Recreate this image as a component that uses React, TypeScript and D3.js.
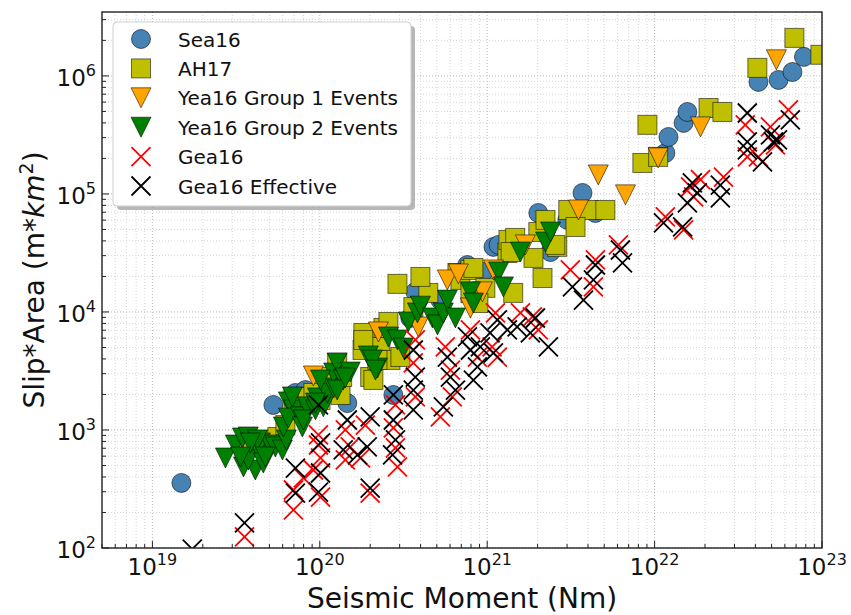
import React, { useEffect } from "react";
import * as d3 from "d3";

// ---- data: [seismic moment (Nm), slip*area (m*km^2)] ----
const sea16: [number, number][] = [
  [1.49e19, 356], [5.28e19, 1630], [7.14e19, 2060], [8.2e19, 2180], [1.46e20, 1690],
  [2.75e20, 1980], [2.3e20, 5250], [3.47e20, 8890], [3.72e20, 1.48e4], [5.25e20, 1.26e4],
  [7.6e20, 2.5e4], [9.5e20, 2.18e4], [1.09e21, 3.56e4], [1.17e21, 3.7e4], [2.02e21, 6.9e4],
  [2.39e21, 3.22e4], [3.01e21, 6.03e4], [3.71e21, 1.02e5], [4.43e21, 6.9e4], [1.16e22, 2.22e5],
  [1.21e22, 3.04e5], [1.49e22, 4.0e5], [1.57e22, 4.95e5], [4.17e22, 8.9e5], [5.5e22, 9.25e5],
  [6.66e22, 1.08e6], [7.8e22, 1.45e6],
];

const ah17: [number, number][] = [
  [3.85e19, 823], [4.6e19, 823], [5.58e19, 873], [6.23e19, 1100], [6.96e19, 1795], [8.43e19, 1905],
  [1.01e20, 1795], [1.16e20, 2405], [1.33e20, 1980], [1.36e20, 2813], [1.82e20, 6637], [2.0e20, 2813],
  [2.3e20, 5050], [2.64e20, 3920], [2.09e20, 2654], [2.21e20, 3920], [1.8e20, 4764], [1.82e20, 5790],
  [1.27e20, 3700], [1.05e20, 2813], [9.16e19, 2060], [3.03e20, 4155], [2.4e20, 7316], [2.57e20, 8230],
  [3.62e20, 1.1e4], [4.45e20, 1.45e4], [2.91e20, 1.73e4], [3.99e20, 1.98e4], [6.64e20, 2.14e4],
  [6.92e20, 1.87e4], [7.94e20, 2.27e4], [7.94e20, 1.45e4], [9.75e20, 1.6e4], [8.27e20, 2.36e4],
  [8.86e20, 1.19e4], [1.32e21, 3.16e4], [1.34e21, 4.07e4], [1.43e21, 1.45e4], [1.47e21, 4.24e4],
  [1.38e21, 3.22e4], [1.89e21, 2.87e4], [2.14e21, 1.94e4], [2.02e21, 4.76e4], [2.23e21, 6.02e4],
  [2.62e21, 3.56e4], [3.05e21, 7.31e4], [4.03e21, 7.31e4], [5.08e21, 7.31e4], [3.37e21, 5.25e4],
  [2.55e21, 3.7e4], [8.45e21, 1.83e5], [1.05e22, 2.06e5], [9.06e21, 3.85e5], [2.1e22, 5.35e5],
  [2.54e22, 4.95e5], [4.11e22, 1.17e6], [6.84e22, 2.1e6], [9.78e22, 1.51e6],
];

const yea16Group1: [number, number][] = [
  [9.16e19, 2870], [2.24e20, 6770], [3.88e20, 7460], [5.78e20, 1.87e4], [6.73e20, 2.1e4],
  [9.36e20, 1.48e4], [1.09e21, 2.27e4], [7.94e20, 1.08e4], [1.69e21, 3.7e4], [3.51e21, 7.31e4],
  [4.61e21, 1.45e5], [6.7e21, 9.82e4], [1.05e22, 2.02e5], [1.88e22, 3.7e5], [5.34e22, 1.37e6],
];

const yea16Group2: [number, number][] = [
  [2.73e19, 579], [3.13e19, 746], [3.45e19, 855], [3.74e19, 873], [3.5e19, 486], [4.12e19, 458],
  [3.74e19, 557], [4.42e19, 638], [4.42e19, 776], [5.07e19, 746], [4.6e19, 525], [5.43e19, 718],
  [5.98e19, 677], [6.31e19, 823], [4.24e19, 823], [3.85e19, 776], [4.73e19, 590], [3.36e19, 590],
  [6.06e19, 1060], [6.49e19, 1730], [6.96e19, 1480], [6.49e19, 1260], [7.66e19, 1290], [7.87e19, 1060],
  [6.86e19, 1905], [8.43e19, 1570], [9.68e19, 1870], [9.42e19, 1480], [1.05e20, 1570], [1.11e20, 2060],
  [1.21e20, 2270], [1.21e20, 3040], [1.01e20, 2650], [1.27e20, 3700], [1.38e20, 2650], [1.52e20, 3100],
  [1.27e20, 2180], [7.98e19, 1215], [9.42e19, 1690], [1.42e20, 2760], [1.95e20, 4240], [2.21e20, 3350],
  [2.06e20, 3920], [2.15e20, 3220], [2.57e20, 6140], [2.91e20, 5790], [3.16e20, 4950], [3.38e20, 8230],
  [3.83e20, 9810], [3.99e20, 1.12e4], [4.71e20, 8890], [5.05e20, 7760], [5.47e20, 9810], [5.78e20, 1.26e4],
  [6.46e20, 8890], [7.94e20, 1.48e4], [8.27e20, 1.19e4], [1.17e21, 2.18e4], [1.25e21, 1.63e4],
  [1.58e21, 3.22e4], [2.23e21, 3.92e4], [2.39e21, 4.76e4],
];

const gea16: [number, number][] = [
  [3.55e19, 124], [6.96e19, 210], [6.96e19, 310], [7.98e19, 392], [9.16e19, 458], [9.82e19, 746],
  [1.01e20, 579], [1.01e20, 270], [9.82e19, 907], [1.42e20, 557], [1.52e20, 718], [1.75e20, 579],
  [2.0e20, 292], [2.83e20, 1630], [2.75e20, 1040], [2.83e20, 704], [2.91e20, 486], [3.72e20, 5790],
  [3.62e20, 3700], [3.72e20, 1905], [5.62e20, 5050], [6.03e20, 3220], [6.19e20, 1905], [5.25e20, 1290],
  [7.94e20, 7040], [1.87e20, 1100], [1.12e21, 9810], [1.07e21, 5050], [8.74e20, 4150], [1.15e21, 4150],
  [1.58e21, 9810], [1.86e21, 9070], [2.02e21, 7040], [3.14e21, 2.27e4], [4.31e21, 1.63e4],
  [4.43e21, 2.76e4], [6.08e21, 3.7e4], [1.16e22, 6.38e4], [1.49e22, 4.95e4], [1.64e22, 1.15e5],
  [1.71e22, 9.44e4], [1.88e22, 1.32e5], [2.58e22, 1.39e5], [3.48e22, 3.85e5], [3.58e22, 2.06e5],
  [4.17e22, 2.06e5], [4.92e22, 3.7e5], [5.27e22, 2.6e5], [6.3e22, 5.15e5], [1.42e20, 1000],
];

const gea16Effective: [number, number][] = [
  [1.73e19, 98], [3.55e19, 163], [7.15e19, 476], [7.15e19, 292], [1.01e20, 432], [9.82e19, 298],
  [1.01e20, 776], [9.82e19, 1630], [1.38e20, 677], [1.46e20, 1215], [1.68e20, 614], [1.92e20, 718],
  [2.0e20, 322], [2.75e20, 1980], [2.75e20, 1215], [2.83e20, 823], [2.72e20, 614], [3.62e20, 4760],
  [3.72e20, 2810], [3.62e20, 2180], [3.62e20, 1480], [5.78e20, 4150], [6.03e20, 2810], [6.46e20, 2180],
  [5.47e20, 1570], [7.62e20, 6140], [7.94e20, 4760], [2.0e20, 1290], [1.15e21, 8550], [1.04e21, 6640],
  [9.1e20, 5050], [1.32e21, 7040], [1.51e21, 7460], [1.94e21, 8890], [1.81e21, 6640], [2.32e21, 5050],
  [8.74e20, 3420], [8.27e20, 2650], [1.09e21, 4500], [3.23e21, 1.63e4], [3.76e21, 1.26e4],
  [4.43e21, 2.5e4], [4.31e21, 1.87e4], [6.25e21, 3.35e4], [6.43e21, 2.6e4], [1.13e22, 5.68e4],
  [1.47e22, 5.25e4], [1.68e22, 1.24e5], [1.8e22, 1.02e5], [1.57e22, 8.39e4], [2.47e22, 1.19e5],
  [2.47e22, 9.25e4], [3.58e22, 4.85e5], [3.58e22, 2.76e5], [3.58e22, 2.36e5], [4.92e22, 3.16e5],
  [5.13e22, 2.76e5], [5.42e22, 2.87e5], [4.41e22, 1.87e5], [6.47e22, 4.24e5],
];

const legendLabels = ["Sea16", "AH17", "Yea16 Group 1 Events", "Yea16 Group 2 Events", "Gea16", "Gea16 Effective"];
const xDomain: [number, number] = [5e18, 1e23];
const yDomain: [number, number] = [100, 3.48e6];
const xLabel = "Seismic Moment (Nm)";

const W = 851, H = 615;
const L = 102, R = 822, T = 12, B = 548;
const FONT = "DejaVu Sans";
const EDGE = "rgba(0,0,0,0.55)";
const S = 10; // half marker size

type Kind = "o" | "s" | "v" | "x";
function Marker({ kind, cx, cy, fill }: { kind: Kind; cx: number; cy: number; fill: string }) {
  if (kind === "o") return <circle cx={cx} cy={cy} r={S - 0.5} fill={fill} stroke={EDGE} strokeWidth={1} />;
  if (kind === "s")
    return <rect x={cx - S + 0.5} y={cy - S + 0.5} width={2 * S - 1} height={2 * S - 1} fill={fill} stroke={EDGE} strokeWidth={1} />;
  if (kind === "v")
    return (
      <path d={`M${cx - S},${cy - S}L${cx + S},${cy - S}L${cx},${cy + S}Z`} fill={fill} stroke={EDGE} strokeWidth={1} strokeLinejoin="miter" />
    );
  const h = S - 0.5;
  return (
    <path d={`M${cx - h},${cy - h}L${cx + h},${cy + h}M${cx - h},${cy + h}L${cx + h},${cy - h}`} stroke={fill} strokeWidth={1.8} fill="none" />
  );
}

const isMajor = (t: number) => Math.abs(Math.log10(t) - Math.round(Math.log10(t))) < 1e-6;

export default function App() {
  useEffect(() => {
    document.body.style.margin = "0";
  }, []);
  const x = d3.scaleLog().domain(xDomain).range([L, R]);
  const y = d3.scaleLog().domain(yDomain).range([B, T]);
  const xt = x.ticks().filter((t) => t >= xDomain[0] * 0.999 && t <= xDomain[1] * 1.001);
  const yt = y.ticks().filter((t) => t >= yDomain[0] * 0.999 && t <= yDomain[1] * 1.001);

  const series: { data: [number, number][]; kind: Kind; color: string }[] = [
    { data: sea16, kind: "o", color: "#4682b4" },
    { data: ah17, kind: "s", color: "#bfbf00" },
    { data: yea16Group1, kind: "v", color: "#ffa500" },
    { data: yea16Group2, kind: "v", color: "#008000" },
    { data: gea16, kind: "x", color: "#ff0000" },
    { data: gea16Effective, kind: "x", color: "#000000" },
  ];

  const lgX = 113, lgY = 22, lgW = 298, lgH = 184;

  return (
    <svg width={W} height={H} style={{ display: "block" }} fontFamily={FONT}>
      <defs>
        <clipPath id="plotClip">
          <rect x={L} y={T} width={R - L} height={B - T} />
        </clipPath>
      </defs>
      <rect x={0} y={0} width={W} height={H} fill="#fff" />
      {/* grid */}
      <g>
        {xt.map((t, i) => (
          <line key={"gx" + i} x1={x(t)} x2={x(t)} y1={T} y2={B}
            stroke={isMajor(t) ? "#b8b8b8" : "#d6d6d6"} strokeWidth={1} strokeDasharray="1,2" />
        ))}
        {yt.map((t, i) => (
          <line key={"gy" + i} x1={L} x2={R} y1={y(t)} y2={y(t)}
            stroke={isMajor(t) ? "#b8b8b8" : "#d6d6d6"} strokeWidth={1} strokeDasharray="1,2" />
        ))}
      </g>
      {/* data */}
      <g clipPath="url(#plotClip)">
        {series.map((s, si) => (
          <g key={si}>
            {s.data.map((d, i) => (
              <Marker key={i} kind={s.kind} cx={x(d[0])} cy={y(d[1])} fill={s.color} />
            ))}
          </g>
        ))}
      </g>
      {/* frame */}
      <rect x={L} y={T} width={R - L} height={B - T} fill="none" stroke="#222" strokeWidth={1.4} />
      {/* ticks */}
      {xt.map((t, i) => (
        <line key={"tx" + i} x1={x(t)} x2={x(t)} y1={B} y2={B - (isMajor(t) ? 7 : 4)} stroke="#222" strokeWidth={1} />
      ))}
      {yt.map((t, i) => (
        <line key={"ty" + i} x1={L} x2={L + (isMajor(t) ? 7 : 4)} y1={y(t)} y2={y(t)} stroke="#222" strokeWidth={1} />
      ))}
      {/* tick labels */}
      {xt.filter(isMajor).map((t, i) => (
        <text key={"lx" + i} x={x(t)} y={575} textAnchor="middle" fontSize={23} fill="#111">
          <tspan>10</tspan>
          <tspan dy={-10} fontSize={16}>{Math.round(Math.log10(t))}</tspan>
        </text>
      ))}
      {yt.filter(isMajor).map((t, i) => (
        <text key={"ly" + i} x={96} y={y(t) + 10} textAnchor="end" fontSize={23} fill="#111">
          <tspan>10</tspan>
          <tspan dy={-10} fontSize={16}>{Math.round(Math.log10(t))}</tspan>
        </text>
      ))}
      {/* axis labels */}
      <text x={(L + R) / 2} y={608} textAnchor="middle" fontSize={28} fill="#111">{xLabel}</text>
      <text transform={`translate(44,${(T + B) / 2}) rotate(-90)`} textAnchor="middle" fontSize={28} fill="#111">
        <tspan>Slip*Area (m*</tspan>
        <tspan fontStyle="italic">km</tspan>
        <tspan dy={-11} fontSize={19}>2</tspan>
        <tspan dy={11}>)</tspan>
      </text>
      {/* legend */}
      <g>
        <rect x={lgX + 4} y={lgY + 4} width={lgW} height={lgH} rx={4} fill="#999" opacity={0.7} />
        <rect x={lgX} y={lgY} width={lgW} height={lgH} rx={4} fill="#fff" stroke="#cfcfcf" strokeWidth={1} />
        {series.map((s, i) => {
          const cy = 39 + i * 29.4;
          return (
            <g key={"lg" + i}>
              <Marker kind={s.kind} cx={141} cy={cy} fill={s.color} />
              <text x={178} y={cy + 7.5} fontSize={20} fill="#111">{legendLabels[i]}</text>
            </g>
          );
        })}
      </g>
    </svg>
  );
}
